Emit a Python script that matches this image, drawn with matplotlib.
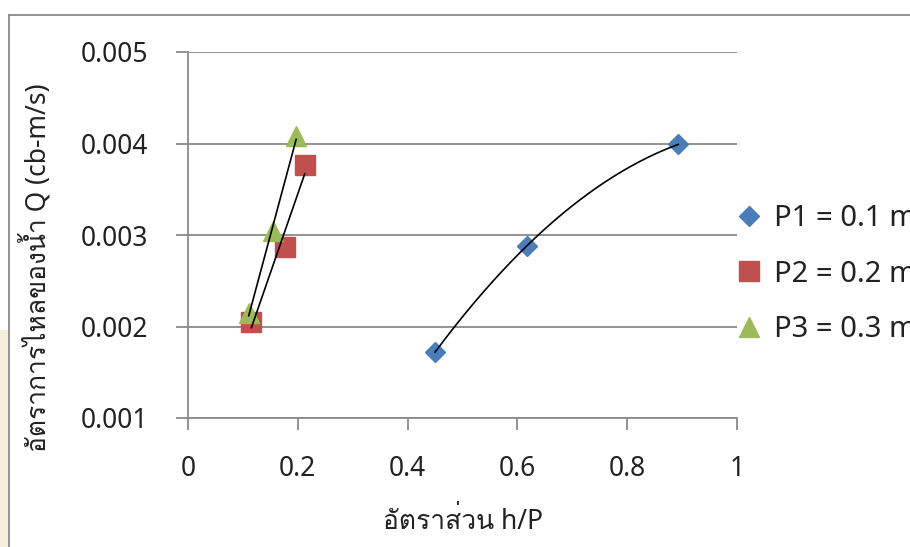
import numpy as np
import matplotlib
matplotlib.use("Agg")
import matplotlib.pyplot as plt
from matplotlib import font_manager as fm
from matplotlib.ft2font import FT2Font
from matplotlib.lines import Line2D
from matplotlib.patches import Rectangle

# ---------------- data ----------------
p1_x = [0.450, 0.617, 0.893]
p1_y = [0.00172, 0.00288, 0.00399]
p2_x = [0.1155, 0.176, 0.2126]
p2_y = [0.00205, 0.00287, 0.00377]
p3_x = [0.1106, 0.155, 0.197]
p3_y = [0.00215, 0.00304, 0.00408]
series_labels = ["P1 = 0.1 m", "P2 = 0.2 m", "P3 = 0.3 m"]
x_ticks = [0, 0.2, 0.4, 0.6, 0.8, 1]
x_tick_labels = ["0", "0.2", "0.4", "0.6", "0.8", "1"]
y_ticks = [0.001, 0.002, 0.003, 0.004, 0.005]
y_tick_labels = ["0.001", "0.002", "0.003", "0.004", "0.005"]
x_label = "อัตราส่วน h/P"
y_label = "อัตราการไหลของน้ำ Q (cb-m/s)"

# ---------------- fonts ----------------
thai = []
for f in fm.fontManager.ttflist:
    try:
        cmap = FT2Font(f.fname).get_charmap()
        if 0x0E2D in cmap and 0x0E31 in cmap and f.name not in thai:
            thai.append(f.name)
    except Exception:
        pass
families = ["Noto Sans"] + thai[:2] + ["DejaVu Sans"]
plt.rcParams["font.family"] = families

W, H = 910, 547
fig = plt.figure(figsize=(W / 100, H / 100), dpi=100)
fig.patch.set_facecolor("white")

def fx(px):
    return px / W

def fy(py):
    return 1 - py / H

ax = fig.add_axes([fx(188), fy(418), fx(737) - fx(188), fy(52) - fy(418)])
ax.set_xlim(0, 1)
ax.set_ylim(0.001, 0.005)

gray = "#8a8a8a"
txt = "#222222"
ax.set_yticks(y_ticks)
ax.set_yticklabels(y_tick_labels)
ax.set_xticks(x_ticks)
ax.set_xticklabels(x_tick_labels)
ax.yaxis.grid(True, color=gray, linewidth=1.3)
ax.set_axisbelow(True)
for s in ["top", "right"]:
    ax.spines[s].set_visible(False)
for s in ["left", "bottom"]:
    ax.spines[s].set_color(gray)
    ax.spines[s].set_linewidth(1.3)
ax.tick_params(axis="both", direction="out", length=8.6, width=1.3, color=gray,
               labelsize=19, labelcolor=txt)
ax.tick_params(axis="y", pad=20)
ax.tick_params(axis="x", pad=18)

blue, red, green = "#4a7ebb", "#c0504d", "#9bbb59"

h1, = ax.plot(p1_x, p1_y, linestyle="none", marker="D", ms=10, color=blue,
              mec=blue, zorder=3, label=series_labels[0])
h2, = ax.plot(p2_x, p2_y, linestyle="none", marker="s", ms=14, color=red,
              mec=red, zorder=3, label=series_labels[1])
h3, = ax.plot(p3_x, p3_y, linestyle="none", marker="^", ms=14.5, color=green,
              mec=green, zorder=3, label=series_labels[2])

# trendlines
c1 = np.polyfit(p1_x, p1_y, 2)
xx1 = np.linspace(min(p1_x), max(p1_x), 200)
ax.plot(xx1, np.polyval(c1, xx1), color="black", lw=1.2, zorder=4)
c2 = np.polyfit(p2_x, p2_y, 1)
xx2 = np.linspace(min(p2_x), max(p2_x), 50)
ax.plot(xx2, np.polyval(c2, xx2), color="black", lw=1.2, zorder=4)
c3 = np.polyfit(p3_x, p3_y, 1)
xx3 = np.linspace(min(p3_x), max(p3_x), 50)
ax.plot(xx3, np.polyval(c3, xx3), color="black", lw=1.2, zorder=4)

leg = ax.legend(handles=[h1, h2, h3], loc="center left",
                bbox_to_anchor=(fx(735), fy(274)), bbox_transform=fig.transFigure,
                frameon=False, fontsize=21, handlelength=0.95, handletextpad=0.4,
                labelspacing=0.9, borderaxespad=0, borderpad=0)
for t in leg.get_texts():
    t.set_color(txt)

fig.text(fx(463), fy(522), x_label, ha="center", va="center", fontsize=19, color=txt)
fig.text(fx(36), fy(268), y_label, ha="center", va="center", rotation=90, fontsize=19,
         color=txt)

# outer chart frame
fig.add_artist(Line2D([fx(9), fx(910)], [fy(15), fy(15)], color=gray, lw=1.3))
fig.add_artist(Line2D([fx(9), fx(9)], [fy(15), fy(547)], color=gray, lw=1.3))
fig.add_artist(Rectangle((0, 0), fx(8), fy(330), facecolor="#f6efdc", edgecolor="none"))

fig.savefig("out.png", dpi=100, facecolor="white")
